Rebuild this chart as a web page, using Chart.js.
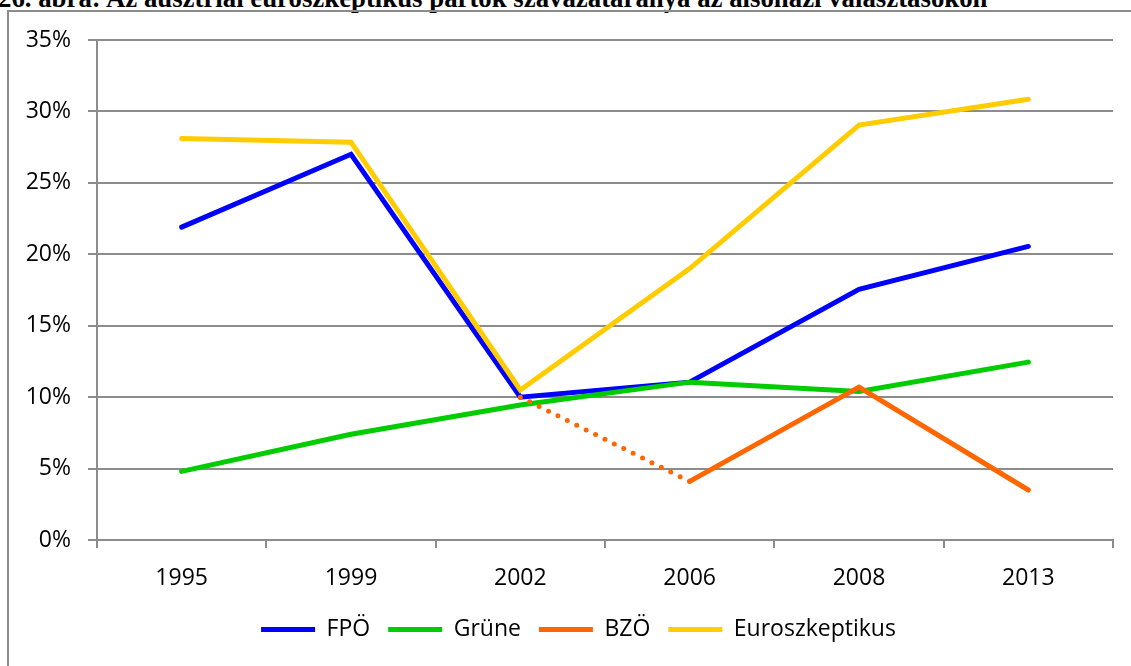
<!DOCTYPE html>
<html>
<head>
<meta charset="utf-8">
<script src="https://cdn.jsdelivr.net/npm/chart.js@4/dist/chart.umd.min.js"></script>
<style>
  html, body { margin: 0; padding: 0; width: 1131px; height: 666px; overflow: hidden; background: #fff; }
  #title { position: absolute; left: -2px; top: -15px; white-space: nowrap; font-family: "Liberation Serif", "Times New Roman", serif; font-weight: bold; font-size: 26.8px; line-height: 26.5px; color: #000; }
  #frame { position: absolute; left: 7px; top: 10px; width: 1200px; height: 700px; border-left: 2px solid #8c8c8c; border-top: 2px solid #8c8c8c; }
  #c { position: absolute; left: 0; top: 0; }
</style>
</head>
<body>
<div id="title">26. ábra: Az ausztriai euroszkeptikus pártok szavazataránya az alsóházi választásokon</div>
<div id="frame"></div>
<canvas id="c" width="1131" height="666"></canvas>
<script>
const years = ['1995', '1999', '2002', '2006', '2008', '2013'];
const fpo = [21.9, 27.0, 10.0, 11.05, 17.55, 20.55];
const grune = [4.8, 7.4, 9.45, 11.05, 10.4, 12.45];
const bzo = [null, null, 10.0, 4.1, 10.7, 3.5];
const euro = [28.1, 27.85, 10.5, 19.0, 29.05, 30.85];
const yTicks = [0, 5, 10, 15, 20, 25, 30, 35];

const FONT = '"Open Sans", "Noto Sans", sans-serif';
const GRID = '#8c8c8c';

function ds(label, data, color, order) {
  return {
    label, data, borderColor: color, backgroundColor: color,
    borderWidth: 5, pointRadius: 0, pointHoverRadius: 0,
    borderCapStyle: 'round', borderJoinStyle: 'miter', tension: 0, fill: false, order
  };
}

const bz = ds('BZÖ', bzo, '#ff6600', 2);
bz.segment = { borderDash: ctx => ctx.p0DataIndex === 2 ? [0, 10.5] : undefined };

const shiftLegend = {
  id: 'shiftLegend',
  afterLayout(chart) {
    if (chart.legend) { chart.legend.left += 12; chart.legend.right += 12; }
  }
};

new Chart(document.getElementById('c'), {
  type: 'line',
  data: {
    labels: years,
    datasets: [
      ds('FPÖ', fpo, '#0000ff', 4),
      ds('Grüne', grune, '#00cc00', 3),
      bz,
      ds('Euroszkeptikus', euro, '#ffcc00', 1)
    ]
  },
  plugins: [shiftLegend],
  options: {
    responsive: false,
    animation: false,
    events: [],
    layout: { padding: { left: 20, right: 18, top: 40, bottom: 15 } },
    plugins: {
      tooltip: { enabled: false },
      title: { display: false },
      legend: {
        position: 'bottom',
        labels: {
          usePointStyle: true,
          pointStyle: 'line',
          pointStyleWidth: 54,
          boxHeight: 23,
          padding: 18,
          color: '#000',
          font: { family: FONT, size: 23 },
          sort: (a, b) => a.datasetIndex - b.datasetIndex
        }
      }
    },
    scales: {
      x: {
        offset: true,
        afterFit: s => { s.height = 60; },
        grid: { display: true, offset: true, drawOnChartArea: false, drawTicks: true, tickLength: 8, color: GRID, lineWidth: 2 },
        border: { display: true, color: GRID, width: 2 },
        ticks: { color: '#000', padding: 17, font: { family: FONT, size: 23 }, maxRotation: 0 }
      },
      y: {
        min: 0, max: 35,
        afterFit: s => { s.width = 77; },
        afterBuildTicks: s => { s.ticks = yTicks.map(v => ({ value: v })); },
        grid: { color: GRID, lineWidth: 2, drawTicks: true, tickLength: 9 },
        border: { display: true, color: GRID, width: 2 },
        ticks: { color: '#000', padding: 17, font: { family: FONT, size: 23 }, callback: v => v + '%' }
      }
    }
  }
});
</script>
</body>
</html>
